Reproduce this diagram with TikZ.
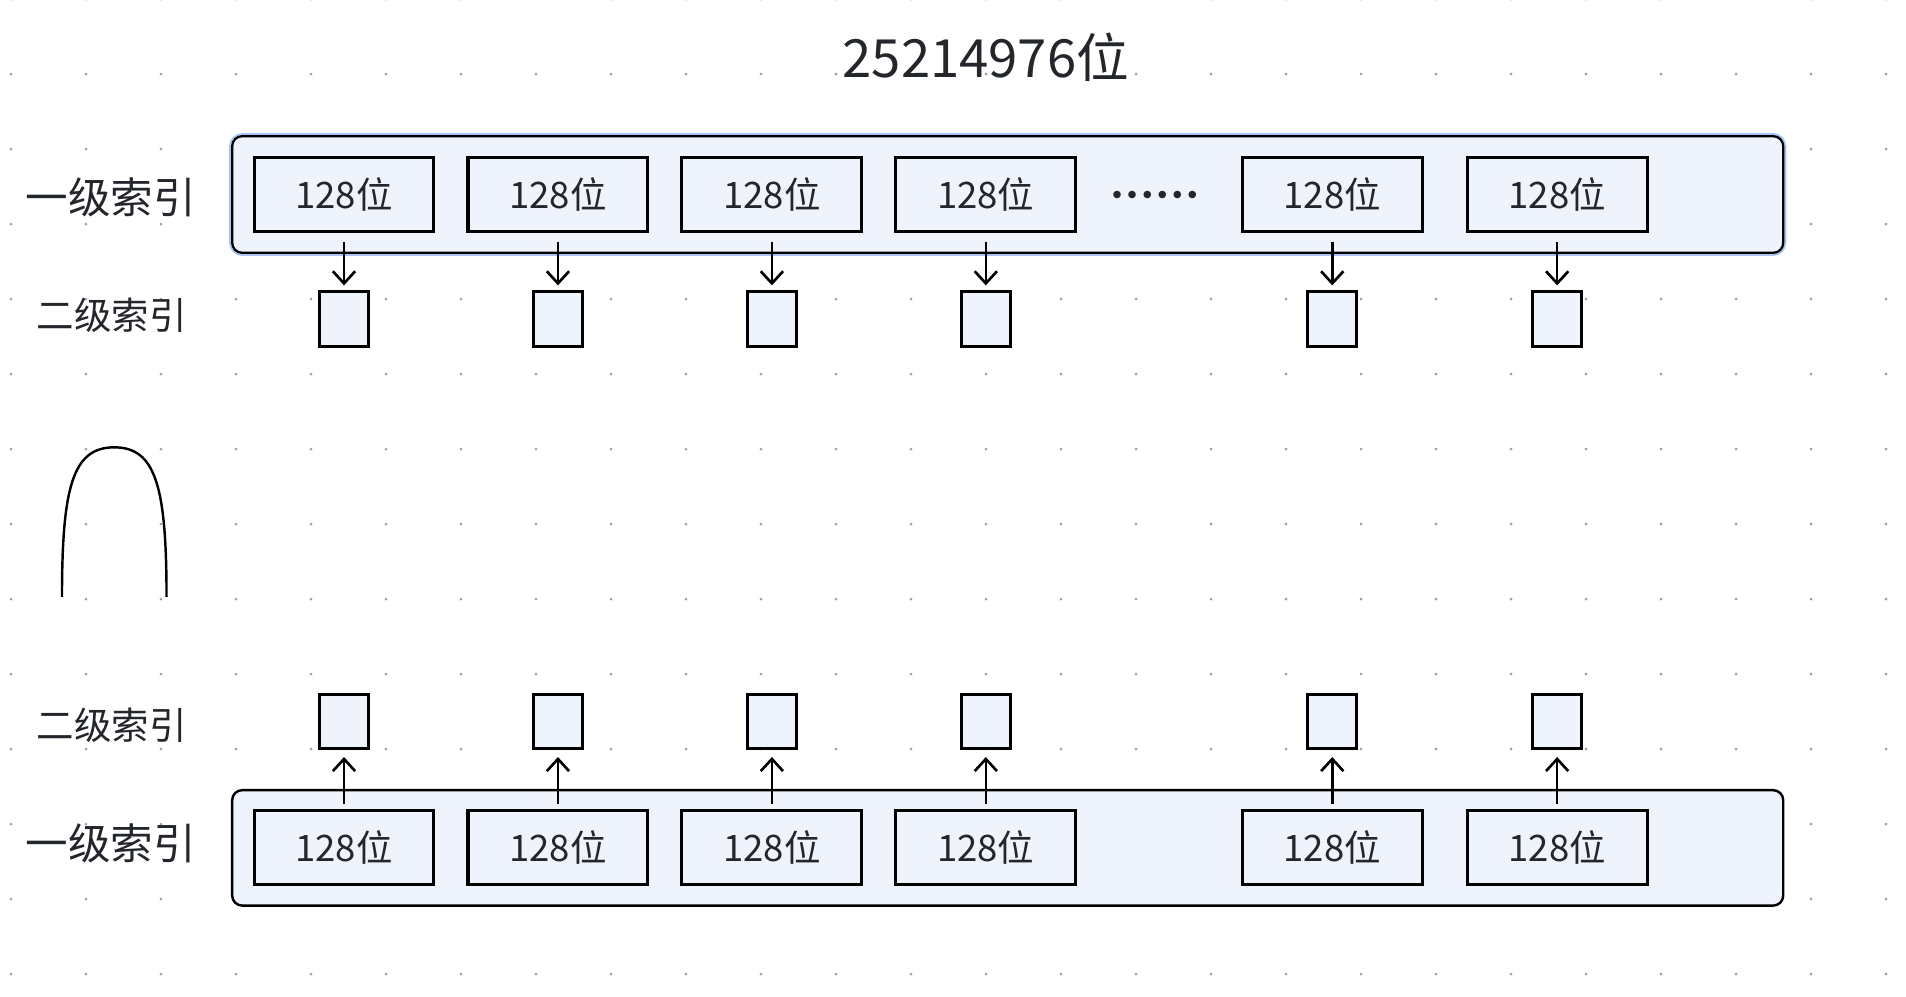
\documentclass[tikz,border=0pt]{standalone}
\usepackage{fontspec}
\setmainfont{Noto Sans CJK SC}
\newfontfamily\dotfont{DejaVu Sans}
\usetikzlibrary{arrows.meta}
\definecolor{boxfill}{HTML}{EFF3FC}
\definecolor{ink}{HTML}{23262B}
\definecolor{griddot}{HTML}{9AA1AB}
\definecolor{halo}{HTML}{A9C4F4}
\newcommand\bits{\raisebox{-1.2pt}{128位}}

\begin{document}
\begin{tikzpicture}[x=0.6pt,y=-0.6pt,
  cell/.style={draw=black,line width=1.5pt,fill=boxfill,inner sep=0pt,
    minimum width=88.8pt,minimum height=36.6pt,text=ink,
    font=\fontsize{18}{20}\selectfont},
  slot/.style={draw=black,line width=1.5pt,fill=boxfill,inner sep=0pt,
    minimum width=24pt,minimum height=27pt},
  level/.style={text=ink,inner sep=0pt},
  link/.style={-{Straight Barb[length=6pt,width=11pt]},line width=1.3pt}]
  \useasboundingbox (0,0) rectangle (1568,820);

  % canvas dots
  \foreach \i in {0,...,25}
    \foreach \j in {0,...,13}
      \fill[griddot] ({9.05+61.7*\i},{-0.8+61.7*\j}) circle (0.75pt);

  \node[level,font=\fontsize{26}{28}\selectfont] (total) at (811,47) {25214976位};

  % upper half
  \draw[halo,line width=3pt,rounded corners=5pt] (191,112) rectangle (1467,208);
  \draw[fill=boxfill,line width=1.1pt,rounded corners=5pt] (191,112) rectangle (1467,208);
  \node[level,font=\fontsize{21}{23}\selectfont] (l1top) at (91,162) {一级索引};
  \node[level,font=\fontsize{18.5}{20}\selectfont] (l2top) at (92,259) {二级索引};
  \node[level,font=\dotfont\fontsize{12.6}{14}\selectfont] (gap) at (950,163) {••••••};
  \foreach \x [count=\i] in {283,459,635,811,1096,1281} {
    \node[cell] (t\i) at (\x,160) {\bits};
    \node[slot] (s\i) at (\x,262.5) {};
    \draw[link,shorten <=4.2pt,shorten >=2.4pt] (t\i.south) -- (s\i.north);
  }

  % arch
  \draw[line width=1.2pt] (51,491) .. controls (51,400) and (60,368) .. (94,368)
    .. controls (128,368) and (137,400) .. (137,491);

  % lower half
  \draw[fill=boxfill,line width=1.2pt,rounded corners=5pt] (191,650) rectangle (1467,745);
  \node[level,font=\fontsize{18.5}{20}\selectfont] (l2bot) at (92,597) {二级索引};
  \node[level,font=\fontsize{21}{23}\selectfont] (l1bot) at (91,694) {一级索引};
  \foreach \x [count=\i] in {283,459,635,811,1096,1281} {
    \node[cell] (b\i) at (\x,697.5) {\bits};
    \node[slot] (u\i) at (\x,593.5) {};
    \draw[link,shorten <=2.4pt,shorten >=3.3pt] (b\i.north) -- (u\i.south);
  }
\end{tikzpicture}
\end{document}
